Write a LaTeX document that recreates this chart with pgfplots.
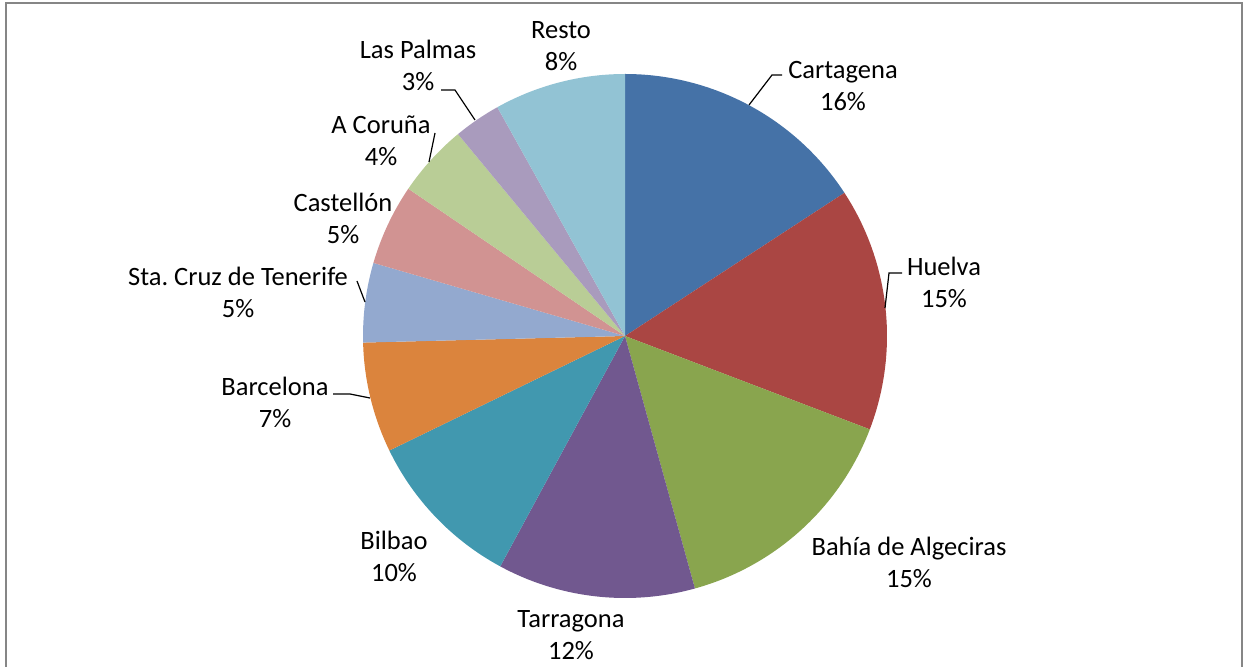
\documentclass[border=0pt]{standalone}
\usepackage{pgfplots}
\pgfplotsset{compat=1.18}
\usepackage{pgfplotstable}
\usepackage{fontspec}
\setmainfont{Carlito}

\definecolor{pc0}{RGB}{69,114,167}
\definecolor{pc1}{RGB}{170,70,67}
\definecolor{pc2}{RGB}{137,165,78}
\definecolor{pc3}{RGB}{113,88,143}
\definecolor{pc4}{RGB}{65,152,175}
\definecolor{pc5}{RGB}{219,132,61}
\definecolor{pc6}{RGB}{147,169,207}
\definecolor{pc7}{RGB}{209,147,146}
\definecolor{pc8}{RGB}{185,205,150}
\definecolor{pc9}{RGB}{169,155,189}
\definecolor{pc10}{RGB}{146,195,212}
\definecolor{frame}{RGB}{134,134,134}

\tikzset{lbl/.style={align=center, inner sep=0pt,
    font=\fontsize{13.25}{16}\selectfont}}

\pgfplotstableread{
name value
Cartagena 15.8
Huelva 15.0
{Bahía de Algeciras} 14.9
Tarragona 12.2
Bilbao 9.9
Barcelona 6.8
{Sta. Cruz de Tenerife} 4.9
Castellón 5.0
{A Coruña} 4.5
{Las Palmas} 2.9
Resto 8.1
}\piedata

\begin{document}
\begin{tikzpicture}
% start/end angle of each slice, clockwise from 12 o'clock
\def\cum{0}
\pgfplotsforeachungrouped \i in {0,...,10}{%
  \pgfplotstablegetelem{\i}{value}\of\piedata
  \pgfmathsetmacro\s{90-3.6*\cum}%
  \pgfmathsetmacro\cum{\cum+\pgfplotsretval}%
  \pgfmathsetmacro\e{90-3.6*\cum}%
  \expandafter\xdef\csname pieS\i\endcsname{\s}%
  \expandafter\xdef\csname pieE\i\endcsname{\e}%
}
\begin{axis}[
    scale only axis,
    width=623pt, height=333.5pt,
    xmin=0, xmax=1246, ymin=0, ymax=667,
    y dir=reverse,
    hide axis,
    clip=false,
]
% frame
\draw[frame, line width=1pt] (axis cs:5.5,667) -- (axis cs:5.5,3.5)
    -- (axis cs:1242,3.5) -- (axis cs:1242,667);

% slices
\pgfplotsinvokeforeach{0,...,10}{%
  \fill[pc#1] (axis cs:625,336) -- ++(\csname pieS#1\endcsname:131pt)
    arc[start angle=\csname pieS#1\endcsname, end angle=\csname pieE#1\endcsname, radius=131pt]
    -- cycle;
}

% leader lines
\draw[line width=0.6pt] (axis cs:749,105) -- (axis cs:772,75) -- (axis cs:782,75);
\draw[line width=0.6pt] (axis cs:885,308) -- (axis cs:889,273) -- (axis cs:902,273);
\draw[line width=0.6pt] (axis cs:475,120) -- (axis cs:455,90) -- (axis cs:441,90);
\draw[line width=0.6pt] (axis cs:429,162) -- (axis cs:435,133);
\draw[line width=0.6pt] (axis cs:365,302) -- (axis cs:357,281);
\draw[line width=0.6pt] (axis cs:370,398) -- (axis cs:350,394) -- (axis cs:333,394);

% labels
\node[lbl] at (axis cs:843,86)  {Cartagena\\16\%};
\node[lbl] at (axis cs:944,282) {Huelva\\15\%};
\node[lbl] at (axis cs:909,562) {Bahía de Algeciras\\15\%};
\node[lbl] at (axis cs:571,635) {Tarragona\\12\%};
\node[lbl] at (axis cs:394,556) {Bilbao\\10\%};
\node[lbl] at (axis cs:275,402) {Barcelona\\7\%};
\node[lbl] at (axis cs:238,292) {Sta.\ Cruz de Tenerife\\5\%};
\node[lbl] at (axis cs:343,218) {Castellón\\5\%};
\node[lbl] at (axis cs:381,141) {A Coruña\\4\%};
\node[lbl] at (axis cs:418,65)  {Las Palmas\\3\%};
\node[lbl] at (axis cs:561,46)  {Resto\\8\%};
\end{axis}
\pgfresetboundingbox
\useasboundingbox (0,0) rectangle (623pt,333.5pt);
\end{tikzpicture}
\end{document}
